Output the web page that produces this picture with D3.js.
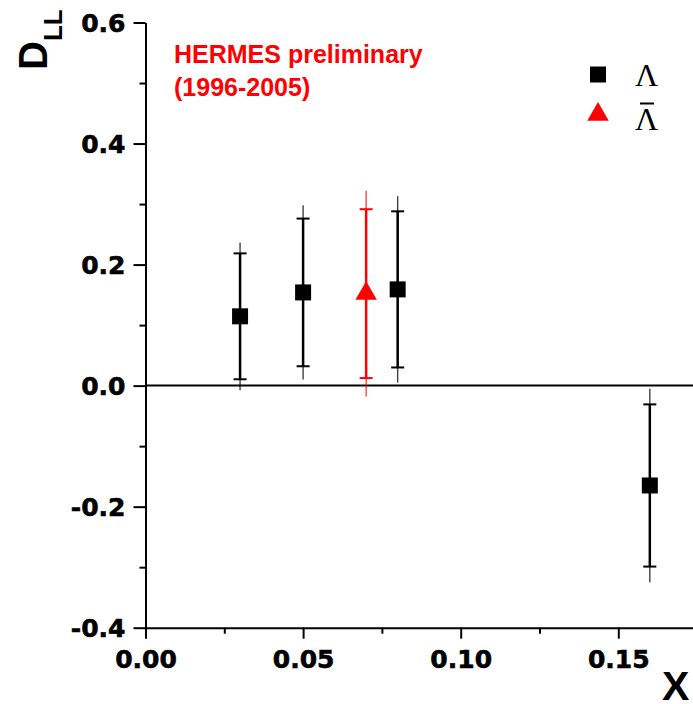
<!DOCTYPE html>
<html>
<head>
<meta charset="utf-8">
<script src="https://cdn.jsdelivr.net/npm/d3@7"></script>
<style>
  body { margin: 0; background: #fff; }
  svg { display: block; }
</style>
</head>
<body>
<div id="chart"></div>
<script>
// data
var lambdaX = [0.03, 0.05, 0.08, 0.16];
var lambdaY = [0.1145, 0.154, 0.159, -0.165];
var lambdaStat = [0.104, 0.122, 0.129, 0.134];
var lambdaTot = [0.122, 0.144, 0.154, 0.160];

var antiX = [0.07];
var antiY = [0.152];
var antiStat = [0.1395];
var antiTot = [0.170];

var xTicks = [0.00, 0.05, 0.10, 0.15];
var xMinor = [0.025, 0.075, 0.125];
var yTicks = [-0.4, -0.2, 0.0, 0.2, 0.4, 0.6];
var yMinor = [-0.3, -0.1, 0.1, 0.3, 0.5];

var width = 693, height = 704;
var margin = {top: 22.5, right: 0, bottom: 76.3, left: 145.5};

var svg = d3.select("#chart")
    .append("svg")
    .attr("width", width)
    .attr("height", height);

var x = d3.scaleLinear()
    .domain([0, (width - margin.left) / 3152])
    .range([margin.left, width]);

var y = d3.scaleLinear()
    .domain([-0.4, 0.6])
    .range([height - margin.bottom, margin.top]);

var tickFont = "'DejaVu Sans', sans-serif";

// Y axis
var yAxis = svg.append("g")
    .attr("transform", "translate(" + margin.left + ",0)")
    .call(d3.axisLeft(y).tickValues(yTicks).tickSize(12).tickSizeOuter(0).tickPadding(8)
        .tickFormat(function(d) { return d.toFixed(1); }));
svg.append("g")
    .attr("transform", "translate(" + margin.left + ",0)")
    .call(d3.axisLeft(y).tickValues(yMinor).tickSize(6).tickSizeOuter(0).tickFormat(""))
    .select(".domain").remove();

// X axis
var xAxis = svg.append("g")
    .attr("transform", "translate(0," + y(-0.4) + ")")
    .call(d3.axisBottom(x).tickValues(xTicks).tickSize(11).tickSizeOuter(0).tickPadding(12)
        .tickFormat(function(d) { return d.toFixed(2); }));
svg.append("g")
    .attr("transform", "translate(0," + y(-0.4) + ")")
    .call(d3.axisBottom(x).tickValues(xMinor).tickSize(6).tickSizeOuter(0).tickFormat(""))
    .select(".domain").remove();

svg.selectAll(".domain, .tick line")
    .attr("stroke", "#000")
    .attr("stroke-width", 2);

yAxis.selectAll("text")
    .attr("font-family", tickFont)
    .attr("font-weight", "bold")
    .attr("font-size", 25)
    .attr("fill", "#000")
    .attr("stroke", "#000")
    .attr("stroke-width", 0.6)
    .attr("dy", "0.36em");

xAxis.selectAll("text")
    .attr("font-family", tickFont)
    .attr("font-weight", "bold")
    .attr("font-size", 25)
    .attr("fill", "#000")
    .attr("stroke", "#000")
    .attr("stroke-width", 0.6)
    .attr("dy", "0.71em");

// zero line
svg.append("line")
    .attr("x1", margin.left)
    .attr("x2", width)
    .attr("y1", y(0))
    .attr("y2", y(0))
    .attr("stroke", "#000")
    .attr("stroke-width", 2);

// axis titles
var yLab = svg.append("text")
    .attr("transform", "translate(47,70) rotate(-90)")
    .attr("font-family", "'Liberation Sans', Arial, sans-serif")
    .attr("font-weight", "bold")
    .attr("font-size", 40)
    .attr("fill", "#000");
yLab.append("tspan").text("D");
yLab.append("tspan").attr("dy", 15).attr("font-size", 26).text("LL");

svg.append("text")
    .attr("x", 662)
    .attr("y", 700)
    .attr("font-family", "'Liberation Sans', Arial, sans-serif")
    .attr("font-weight", "bold")
    .attr("font-size", 41)
    .attr("fill", "#000")
    .text("X");

// caption
svg.append("text")
    .attr("x", 174)
    .attr("y", 63)
    .attr("font-family", "'Liberation Sans', Arial, sans-serif")
    .attr("font-weight", "bold")
    .attr("font-size", 25)
    .attr("fill", "#ff0000")
    .text("HERMES preliminary");
svg.append("text")
    .attr("x", 174)
    .attr("y", 96)
    .attr("font-family", "'Liberation Sans', Arial, sans-serif")
    .attr("font-weight", "bold")
    .attr("font-size", 25)
    .attr("fill", "#ff0000")
    .text("(1996-2005)");

// points with error bars
function drawSeries(xs, ys, stat, tot, color, symbol, size) {
    var data = xs.map(function(d, i) {
        return {x: d, y: ys[i], s: stat[i], t: tot[i]};
    });
    var g = svg.append("g").selectAll("g")
        .data(data)
        .enter().append("g");

    // total error, thin
    g.append("line")
        .attr("x1", function(d) { return x(d.x); })
        .attr("x2", function(d) { return x(d.x); })
        .attr("y1", function(d) { return y(d.y + d.t); })
        .attr("y2", function(d) { return y(d.y - d.t); })
        .attr("stroke", color)
        .attr("stroke-opacity", 0.75)
        .attr("stroke-width", 1.4);

    // statistical error with caps
    g.append("line")
        .attr("x1", function(d) { return x(d.x); })
        .attr("x2", function(d) { return x(d.x); })
        .attr("y1", function(d) { return y(d.y + d.s); })
        .attr("y2", function(d) { return y(d.y - d.s); })
        .attr("stroke", color)
        .attr("stroke-width", 2.5);
    [1, -1].forEach(function(sign) {
        g.append("line")
            .attr("x1", function(d) { return x(d.x) - 6.5; })
            .attr("x2", function(d) { return x(d.x) + 6.5; })
            .attr("y1", function(d) { return y(d.y + sign * d.s); })
            .attr("y2", function(d) { return y(d.y + sign * d.s); })
            .attr("stroke", color)
            .attr("stroke-width", 2);
    });

    g.append("path")
        .attr("d", d3.symbol().type(symbol).size(size))
        .attr("transform", function(d) { return "translate(" + x(d.x) + "," + y(d.y) + ")"; })
        .attr("fill", color);
}

drawSeries(lambdaX, lambdaY, lambdaStat, lambdaTot, "#000", d3.symbolSquare, 256);
drawSeries(antiX, antiY, antiStat, antiTot, "#ff0000", d3.symbolTriangle, 200);

// legend
var legendItems = [
    {label: "\u039B", color: "#000", symbol: d3.symbolSquare, size: 256, bar: false},
    {label: "\u039B", color: "#ff0000", symbol: d3.symbolTriangle, size: 200, bar: true}
];

var legend = svg.append("g")
    .selectAll("g")
    .data(legendItems)
    .enter().append("g")
    .attr("transform", function(d, i) { return "translate(598," + (74.5 + i * 40) + ")"; });

legend.append("path")
    .attr("d", function(d) { return d3.symbol().type(d.symbol).size(d.size)(); })
    .attr("fill", function(d) { return d.color; });

legend.append("text")
    .attr("x", 37)
    .attr("y", function(d, i) { return 11.5 + i * 3.5; })
    .attr("font-family", "'Liberation Serif', 'Times New Roman', serif")
    .attr("font-size", 32)
    .attr("fill", "#000")
    .text(function(d) { return d.label; });

legend.filter(function(d) { return d.bar; })
    .append("line")
    .attr("x1", 42)
    .attr("x2", 56)
    .attr("y1", -11)
    .attr("y2", -11)
    .attr("stroke", "#000")
    .attr("stroke-width", 2);
</script>
</body>
</html>
